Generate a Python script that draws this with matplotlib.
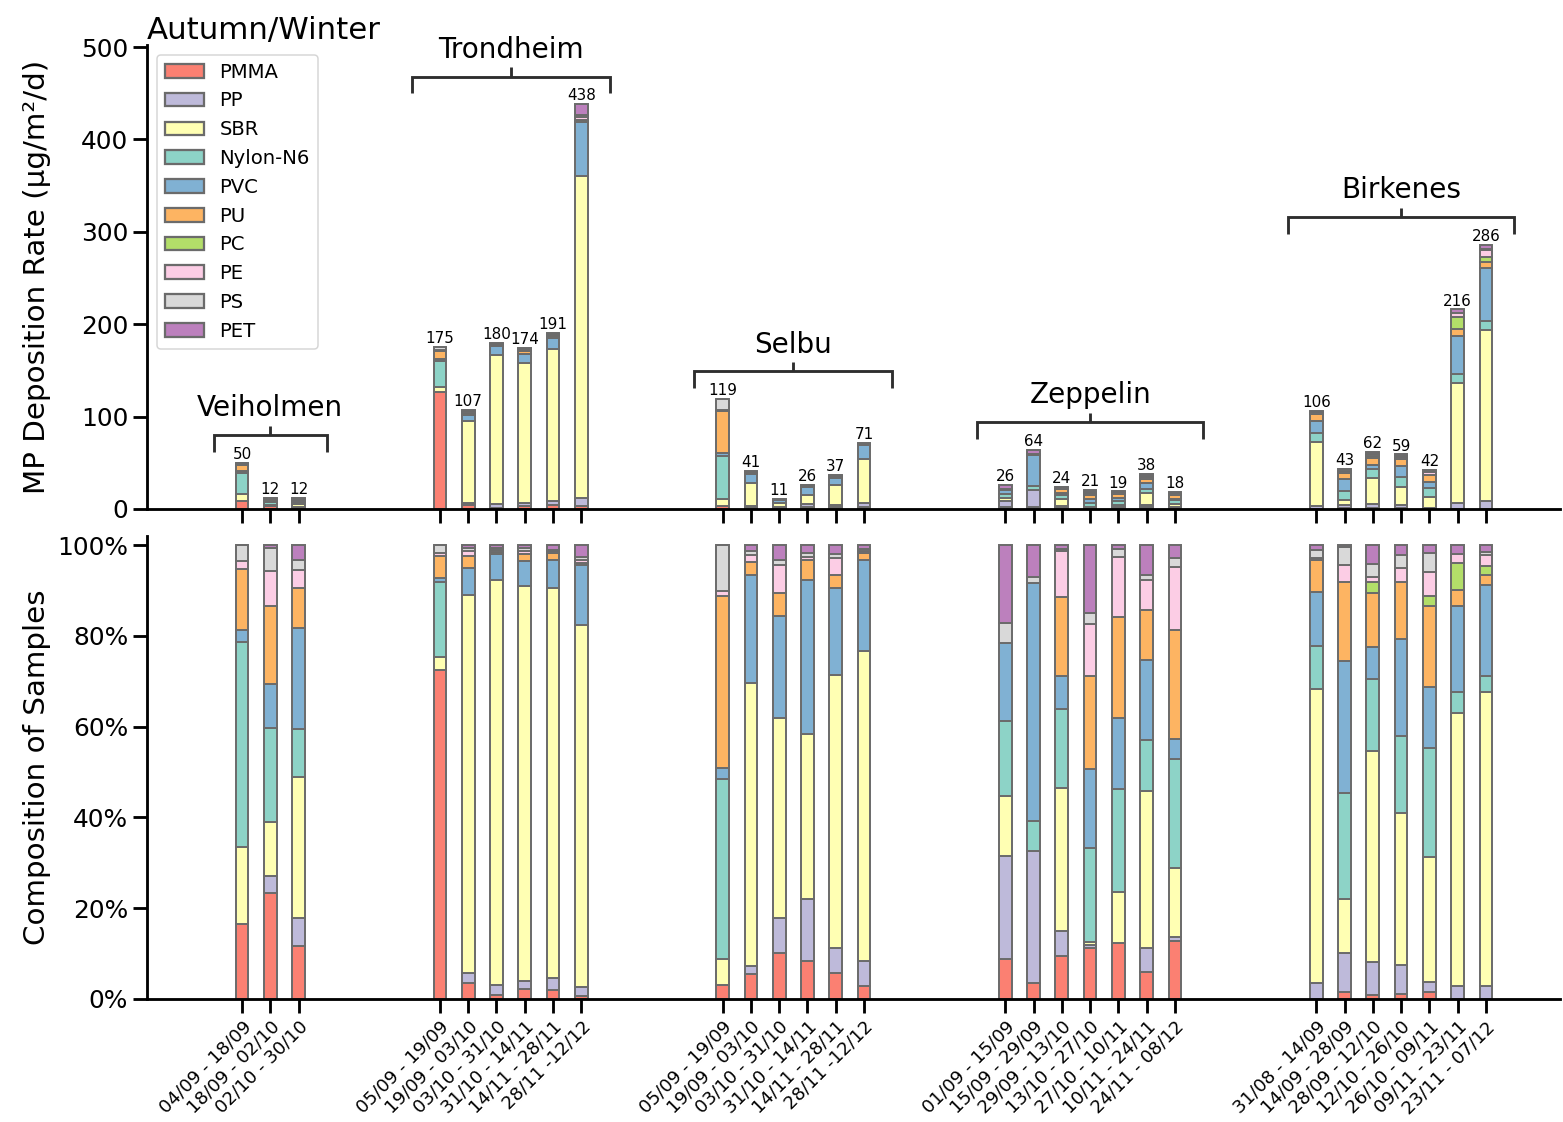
import numpy as np
import matplotlib
matplotlib.use("Agg")
import matplotlib.pyplot as plt
from matplotlib.ticker import PercentFormatter

# ---------------- data ----------------
sites = ["Veiholmen", "Trondheim", "Selbu", "Zeppelin", "Birkenes"]
site_sizes = [3, 6, 6, 7, 7]

periods = [
    "04/09 - 18/09", "18/09 - 02/10", "02/10 - 30/10",
    "05/09 - 19/09", "19/09 - 03/10", "03/10 - 31/10", "31/10 - 14/11", "14/11 - 28/11", "28/11 -12/12",
    "05/09 - 19/09", "19/09 - 03/10", "03/10 - 31/10", "31/10 - 14/11", "14/11 - 28/11", "28/11 -12/12",
    "01/09 - 15/09", "15/09 - 29/09", "29/09 - 13/10", "13/10 - 27/10", "27/10 - 10/11", "10/11 - 24/11", "24/11 - 08/12",
    "31/08 - 14/09", "14/09 - 28/09", "28/09 - 12/10", "12/10 - 26/10", "26/10 - 09/11", "09/11 - 23/11", "23/11 - 07/12",
]

totals = [50, 12, 12,
          175, 107, 180, 174, 191, 438,
          119, 41, 11, 26, 37, 71,
          26, 64, 24, 21, 19, 38, 18,
          106, 43, 62, 59, 42, 216, 286]

polymers = ["PMMA", "PP", "SBR", "Nylon-N6", "PVC", "PU", "PC", "PE", "PS", "PET"]
colors = ["#FB8072", "#BEBADA", "#FFFFB3", "#8DD3C7", "#80B1D3",
          "#FDB462", "#B3DE69", "#FCCDE5", "#D9D9D9", "#BC80BD"]

# composition (% of each sample)
pmma = [16.5, 23.3, 11.7,
        72.5, 3.6, 0.9, 2.1, 2.0, 0.7,
        3.1, 5.4, 10.1, 8.4, 5.8, 2.9,
        8.8, 3.5, 9.5, 11.2, 12.3, 6.0, 12.8,
        0, 1.5, 0.9, 1.0, 1.6, 0, 0]
pp = [0, 3.8, 6.2,
      0, 2.1, 2.2, 1.9, 2.6, 2.0,
      0, 1.9, 7.7, 13.6, 5.5, 5.5,
      22.7, 29.1, 5.5, 0.8, 0, 5.2, 0.8,
      3.5, 8.6, 7.3, 6.5, 2.2, 2.9, 2.9]
sbr = [16.9, 11.8, 30.9,
       2.8, 83.3, 89.2, 87.0, 85.9, 79.7,
       5.7, 62.4, 44.2, 36.4, 60.1, 68.3,
       13.3, 0, 31.4, 0.5, 11.3, 34.7, 15.2,
       64.7, 11.9, 46.4, 33.4, 27.4, 60.2, 64.8]
nylon = [45.3, 20.9, 10.6,
         16.5, 0, 0, 0, 0, 0,
         39.7, 0, 0, 0, 0, 0,
         16.4, 6.6, 17.4, 20.7, 22.6, 11.1, 24.1,
         9.6, 23.3, 15.9, 17.0, 24.0, 4.6, 3.5]
pvc = [2.6, 9.6, 22.4,
       1.0, 5.9, 5.7, 5.5, 6.3, 13.2,
       2.5, 23.8, 22.4, 33.9, 19.2, 20.1,
       17.3, 52.4, 7.4, 17.4, 15.6, 17.7, 4.3,
       11.8, 29.1, 7.1, 21.3, 13.6, 18.9, 20.0]
pu = [13.4, 17.2, 8.7,
      4.8, 2.7, 0.5, 1.5, 1.4, 0.5,
      37.8, 2.7, 5.0, 4.4, 2.9, 1.5,
      0, 0, 17.4, 20.5, 22.4, 11.1, 24.1,
      7.1, 17.4, 11.9, 12.7, 17.8, 3.5, 2.3]
pc = [0, 0, 0,
      0, 0, 0, 0, 0, 0,
      0, 0, 0, 0, 0, 0,
      0, 0, 0, 0, 0, 0, 0,
      0, 0, 2.4, 0, 2.2, 5.9, 1.9]
pe = [1.8, 7.7, 4.0,
      0.6, 1.2, 0.4, 0.7, 0.4, 0.7,
      1.1, 1.6, 6.2, 0.6, 3.6, 0.3,
      0, 0, 10.2, 11.5, 13.2, 6.6, 13.8,
      0.4, 3.8, 1.1, 3.0, 5.3, 2.0, 2.5]
ps = [3.5, 5.0, 2.3,
      1.8, 0.6, 0.4, 0.6, 0.3, 0.6,
      10.1, 0.9, 1.2, 1.0, 0.9, 0.5,
      4.4, 1.4, 0.3, 2.5, 1.7, 1.0, 2.1,
      1.8, 4.0, 2.8, 3.0, 4.1, 0, 0.6]
pet = [0, 0.7, 3.2,
       0, 0.6, 0.7, 0.7, 1.1, 2.6,
       0, 1.3, 3.2, 1.7, 2.0, 0.9,
       17.1, 7.0, 0.9, 14.9, 0.9, 6.6, 2.8,
       1.1, 0.4, 4.2, 2.1, 1.8, 2.0, 1.5]

comp = np.array([pmma, pp, sbr, nylon, pvc, pu, pc, pe, ps, pet], dtype=float)
comp = comp / comp.sum(axis=0)          # fractions per sample
tot = np.array(totals, dtype=float)

# x positions: groups separated by gaps
x = []
groups = []
start = 0
for n in site_sizes:
    pos = list(range(start, start + n))
    groups.append(pos)
    x += pos
    start = pos[-1] + 5
x = np.array(x, dtype=float)

# ---------------- style ----------------
plt.rcParams.update({
    "font.family": "DejaVu Sans",
    "axes.linewidth": 1.875,
    "xtick.major.width": 1.875,
    "ytick.major.width": 1.875,
    "xtick.major.size": 9,
    "ytick.major.size": 9,
    "xtick.labelsize": 16.5,
    "ytick.labelsize": 16.5,
    "axes.labelsize": 19.5,
})

DPI = 108.5
fig = plt.figure(figsize=(1563 / DPI, 1122 / DPI), dpi=DPI)
W, H = 1563, 1122
ax1 = fig.add_axes([147 / W, 1 - 509 / H, 1413 / W, 464 / H])
ax2 = fig.add_axes([147 / W, 1 - 999 / H, 1413 / W, 463 / H])

bw = 0.45
edge = "#6b6b6b"
lw = 1.3

cum_abs = np.zeros(len(x))
cum_rel = np.zeros(len(x))
for i, name in enumerate(polymers):
    vals_abs = comp[i] * tot
    ax1.bar(x, vals_abs, bottom=cum_abs, width=bw, color=colors[i],
            edgecolor=edge, linewidth=lw, label=name, zorder=2)
    ax2.bar(x, comp[i], bottom=cum_rel, width=bw, color=colors[i],
            edgecolor=edge, linewidth=lw, zorder=2)
    cum_abs += vals_abs
    cum_rel += comp[i]

# totals on top
for xi, t in zip(x, totals):
    ax1.text(xi, t + 1, f"{t}", ha="center", va="bottom", fontsize=10)

# brackets with site names
bcol = "#2e2e2e"
for name, pos in zip(sites, groups):
    x0, x1 = pos[0] - 1, pos[-1] + 1
    xc = (pos[0] + pos[-1]) / 2
    ymax = max(totals[int(np.where(x == p)[0][0])] for p in pos)
    yb = ymax + 30
    ax1.plot([x0, x0, x1, x1], [yb - 18, yb, yb, yb - 18], color=bcol, lw=1.9,
             solid_joinstyle="miter", solid_capstyle="butt", clip_on=False, zorder=3)
    ax1.plot([xc, xc], [yb, yb + 10], color=bcol, lw=1.9,
             solid_capstyle="butt", clip_on=False, zorder=3)
    ax1.text(xc, yb + 29, name, ha="center", va="center", fontsize=18.5)

# axes formatting
for ax in (ax1, ax2):
    ax.spines["top"].set_visible(False)
    ax.spines["right"].set_visible(False)
    ax.set_xlim(-3.36, 46.62)
    ax.set_xticks(x)

ax1.set_xticklabels([])
ax1.set_ylim(0, 502.2)
ax1.set_yticks([0, 100, 200, 300, 400, 500])
ax1.set_ylabel("MP Deposition Rate (µg/m²/d)")
ax1.set_title("Autumn/Winter", loc="left", fontsize=20.5, pad=2)

ax2.set_ylim(0, 1.02)
ax2.set_yticks([0, 0.2, 0.4, 0.6, 0.8, 1.0])
ax2.yaxis.set_major_formatter(PercentFormatter(1.0, decimals=0))
ax2.set_ylabel("Composition of Samples")
ax2.set_xticklabels(periods, rotation=45, ha="right", rotation_mode="anchor",
                    fontsize=12)

for ax in (ax1, ax2):
    ax.yaxis.set_label_coords(-0.068, 0.5)

leg = ax1.legend(loc="upper left", fontsize=13, frameon=True, borderaxespad=0.5,
                 labelspacing=0.5, handlelength=2.0)
leg.get_frame().set_edgecolor("0.8")
for h in leg.legend_handles:
    h.set_edgecolor(edge)
    h.set_linewidth(1.5)

fig.savefig("out.png", dpi=DPI)
